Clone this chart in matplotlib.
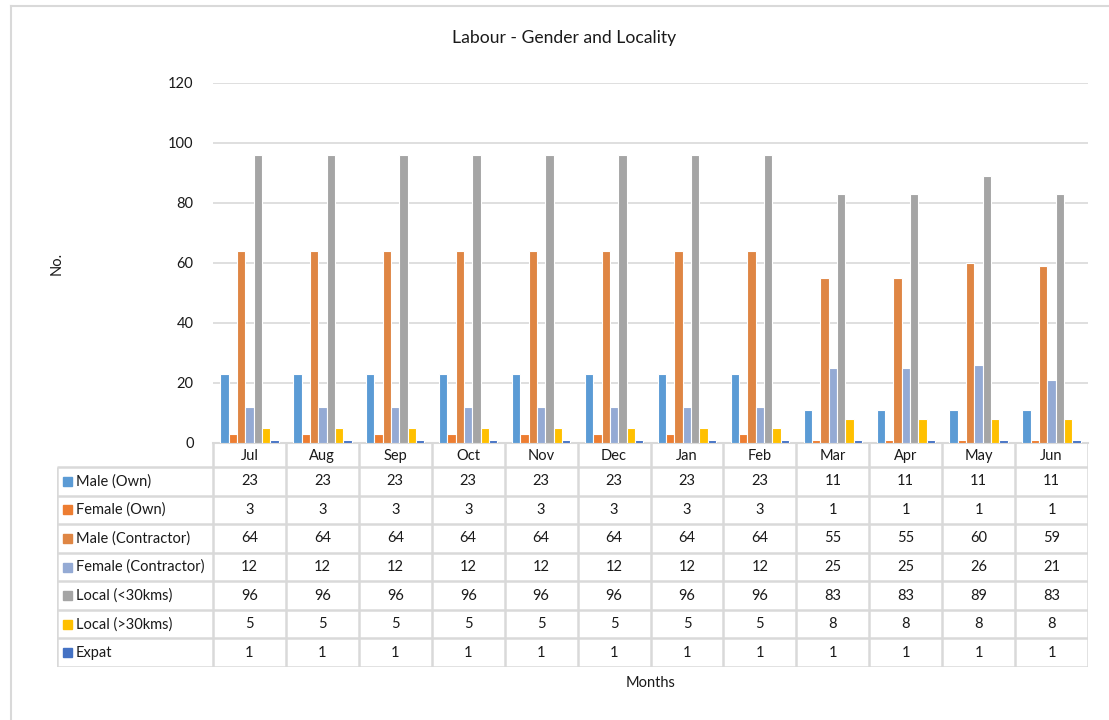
import numpy as np
import matplotlib.pyplot as plt
from matplotlib.lines import Line2D
from matplotlib.patches import Rectangle

plt.rcParams['font.family'] = ['Lato', 'DejaVu Sans']

months = ['Jul', 'Aug', 'Sep', 'Oct', 'Nov', 'Dec', 'Jan', 'Feb', 'Mar', 'Apr', 'May', 'Jun']
series = ['Male (Own)', 'Female (Own)', 'Male (Contractor)', 'Female (Contractor)',
          'Local (<30kms)', 'Local (>30kms)', 'Expat']
male_own = [23, 23, 23, 23, 23, 23, 23, 23, 11, 11, 11, 11]
female_own = [3, 3, 3, 3, 3, 3, 3, 3, 1, 1, 1, 1]
male_contractor = [64, 64, 64, 64, 64, 64, 64, 64, 55, 55, 60, 59]
female_contractor = [12, 12, 12, 12, 12, 12, 12, 12, 25, 25, 26, 21]
local_near = [96, 96, 96, 96, 96, 96, 96, 96, 83, 83, 89, 83]
local_far = [5, 5, 5, 5, 5, 5, 5, 5, 8, 8, 8, 8]
expat = [1, 1, 1, 1, 1, 1, 1, 1, 1, 1, 1, 1]
values = [male_own, female_own, male_contractor, female_contractor, local_near, local_far, expat]
colors = ['#5B9BD5', '#ED7D31', '#DF8644', '#94AAD4', '#A5A5A5', '#FFC000', '#4472C4']

W, H = 1109, 720
grid_c = '#D9D9D9'
text_c = '#1A1A1A'

fig = plt.figure(figsize=(W / 100, H / 100), dpi=100)


def fx(px):
    return px / W


def fy(py):
    return 1 - py / H


# chart border (top and left visible)
fig.add_artist(Line2D([fx(11), fx(11)], [fy(6), 0], color=grid_c, lw=1.5))
fig.add_artist(Line2D([fx(11), 1], [fy(6), fy(6)], color=grid_c, lw=1.5))

left, right, top, base = 213, 1088, 83, 443
ax = fig.add_axes([fx(left), fy(base), fx(right - left), (base - top) / H])
n = len(series)
x = np.arange(len(months))
slot = 0.8 / n
for i, (vals, c) in enumerate(zip(values, colors)):
    ax.bar(x - 0.4 + slot * (i + 0.5), vals, width=slot, color=c,
           edgecolor='white', linewidth=0.8, zorder=3)
ax.set_xlim(-0.5, len(months) - 0.5)
ax.set_ylim(0, 120)
ax.set_yticks(range(0, 121, 20))
ax.set_xticks([])
ax.yaxis.grid(True, color=grid_c, lw=1.2)
ax.set_axisbelow(True)
for s in ['top', 'right', 'left']:
    ax.spines[s].set_visible(False)
ax.spines['bottom'].set_color(grid_c)
ax.spines['bottom'].set_linewidth(1.5)
ax.tick_params(axis='y', length=0, pad=14, labelsize=10.5, labelcolor=text_c)

fig.text(fx(564), fy(38), 'Labour - Gender and Locality', ha='center', va='center',
         fontsize=12.6, color=text_c)

# data table
tab_left, tab_bottom, head_bottom = 57, 667, 467
row_h = (tab_bottom - head_bottom) / n
col_w = (right - left) / len(months)
tab = fig.add_axes([fx(tab_left), fy(tab_bottom), fx(right - tab_left), (tab_bottom - base) / H])
tab.set_xlim(tab_left, right)
tab.set_ylim(tab_bottom, base)
tab.axis('off')
lw = 1.8
# header verticals
for j in range(len(months) + 1):
    xx = left + j * col_w
    tab.plot([xx, xx], [base, tab_bottom], color=grid_c, lw=lw, solid_capstyle='butt')
tab.plot([tab_left, tab_left], [head_bottom, tab_bottom], color=grid_c, lw=lw, solid_capstyle='butt')
for r in range(n + 1):
    yy = head_bottom + r * row_h
    tab.plot([tab_left, right], [yy, yy], color=grid_c, lw=lw, solid_capstyle='butt')
for j, m in enumerate(months):
    tab.text(left + (j + 0.5) * col_w, (base + head_bottom) / 2 + 1, m,
             ha='center', va='center', fontsize=10.5, color=text_c)
for r, (name, vals, c) in enumerate(zip(series, values, colors)):
    yc = head_bottom + (r + 0.5) * row_h
    tab.add_patch(Rectangle((63, yc - 4.5), 9, 9, color=c))
    tab.text(76, yc, name, ha='left', va='center', fontsize=10.5, color=text_c)
    for j, v in enumerate(vals):
        tab.text(left + (j + 0.5) * col_w, yc, str(v), ha='center', va='center',
                 fontsize=10.5, color=text_c)

fig.text(fx(57), fy(263), 'No.', rotation=90, ha='center', va='center', fontsize=10.5, color=text_c)
fig.text(fx(651), fy(683), 'Months', ha='center', va='center', fontsize=10.5, color=text_c)

fig.savefig('out.png', dpi=100, facecolor='white')
